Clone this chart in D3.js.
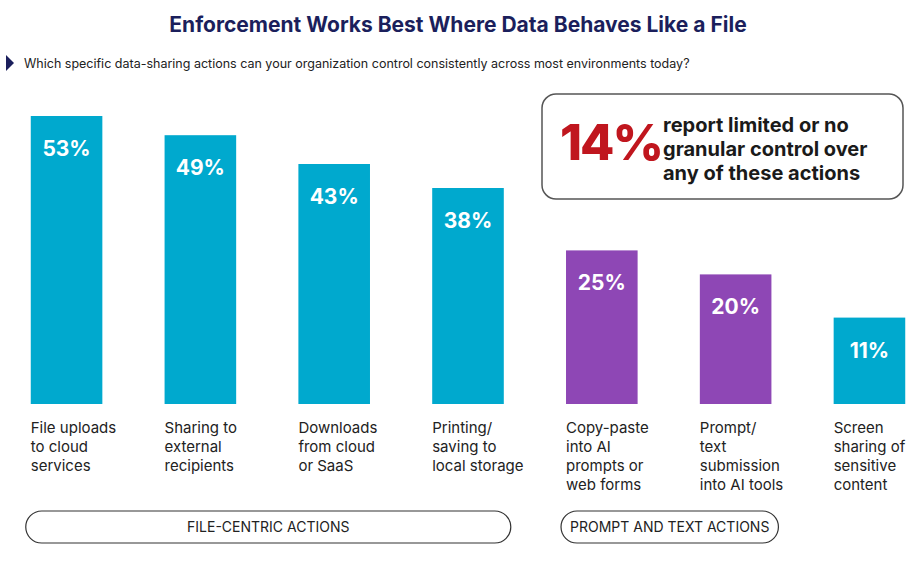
<!DOCTYPE html><html><head><meta charset="utf-8"><script src="https://cdn.jsdelivr.net/npm/d3@7"></script>
<style>body{margin:0;background:#fff}</style></head><body><svg id="c" width="920" height="572"></svg>
<script>
const categories=[["File uploads","to cloud","services"],["Sharing to","external","recipients"],["Downloads","from cloud","or SaaS"],["Printing/","saving to","local storage"],["Copy-paste","into AI","prompts or","web forms"],["Prompt/","text","submission","into AI tools"],["Screen","sharing of","sensitive","content"]];
const values=[53,49,43,38,25,20,11];
const groups=["file","file","file","file","prompt","prompt","file"];
const groupLabels=[{t:"FILE-CENTRIC ACTIONS",a:0,b:3},{t:"PROMPT AND TEXT ACTIONS",a:4,b:5}];
const svg=d3.select("#c"),F="Inter, Roboto, sans-serif";
const x=d3.scaleBand().domain(d3.range(7)).range([4,932]).paddingInner(0.465).paddingOuter(0.2);
const y=d3.scaleLinear().domain([-7,53]).range([404,116]);
const col={file:"#00a9ce",prompt:"#8e47b5"};
svg.append("text").attr("x",458).attr("y",32).attr("text-anchor","middle").attr("font-family",F).attr("font-weight",700).attr("font-size",21).attr("fill","#1b1f5c").text("Enforcement Works Best Where Data Behaves Like a File");
svg.append("path").attr("d","M6,55 L14,63 L6,71 Z").attr("fill","#1b1f5c");
svg.append("text").attr("x",24).attr("y",68).attr("font-family",F).attr("font-size",12.5).attr("fill","#222").text("Which specific data-sharing actions can your organization control consistently across most environments today?");
const g=svg.selectAll(".b").data(values).enter().append("g");
g.append("rect").attr("x",(d,i)=>x(i)).attr("width",x.bandwidth()).attr("y",d=>y(d)).attr("height",d=>404-y(d)).attr("fill",(d,i)=>col[groups[i]]);
g.append("text").attr("x",(d,i)=>x(i)+x.bandwidth()/2).attr("y",d=>y(d)+40).attr("text-anchor","middle").attr("font-family",F).attr("font-weight",700).attr("font-size",21).attr("fill","#fff").text(d=>d+"%");
g.each(function(d,i){const t=d3.select(this).append("text").attr("font-family",F).attr("font-size",15).attr("fill","#222");
categories[i].forEach((l,k)=>t.append("tspan").attr("x",x(i)).attr("y",433+k*19).text(l));});
groupLabels.forEach(gl=>{const x0=x(gl.a)-5,x1=x(gl.b)+x.bandwidth()+7;
svg.append("rect").attr("x",x0).attr("y",511).attr("width",x1-x0).attr("height",32).attr("rx",16).attr("fill","none").attr("stroke","#333").attr("stroke-width",1.2);
svg.append("text").attr("x",(x0+x1)/2).attr("y",532).attr("text-anchor","middle").attr("font-family",F).attr("font-size",14).attr("fill","#222").text(gl.t);});
svg.append("rect").attr("x",542).attr("y",94).attr("width",361).attr("height",105).attr("rx",14).attr("fill","#fff").attr("stroke","#555").attr("stroke-width",1.5);
svg.append("text").attr("x",560).attr("y",160).attr("font-family",F).attr("font-weight",800).attr("font-size",50).attr("letter-spacing",-2).attr("fill","#c0161e").text("14%");
const ct=svg.append("text").attr("font-family",F).attr("font-weight",700).attr("font-size",20).attr("fill","#1a1a1a");
["report limited or no","granular control over","any of these actions"].forEach((l,k)=>ct.append("tspan").attr("x",663).attr("y",132+k*24).text(l));
</script></body></html>
